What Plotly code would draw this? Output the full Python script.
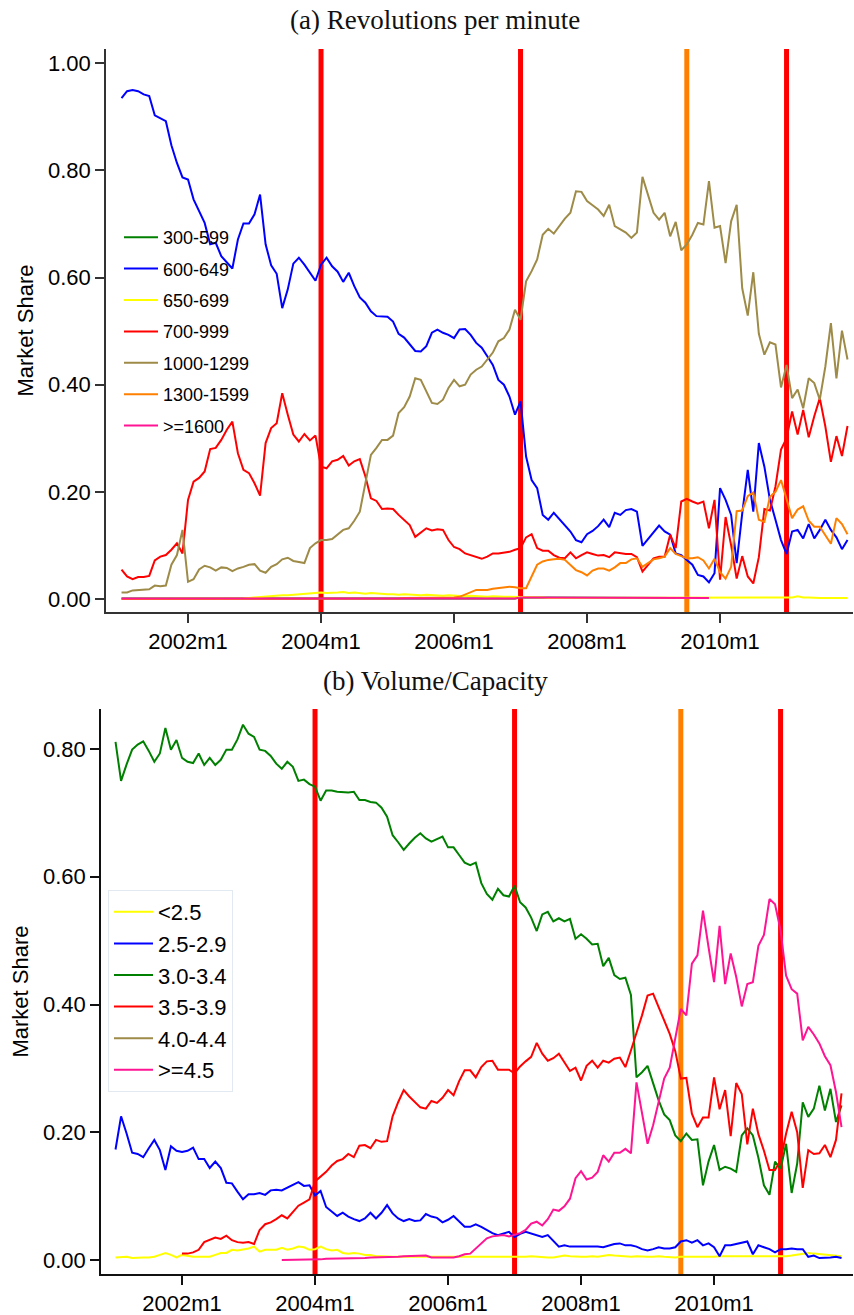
import plotly.graph_objects as go

# ---------------------------------------------------------------- time axis
months = [f"{yr}m{mo}" for yr in range(2001, 2012) for mo in range(1, 13)]
tick_labels = ["2002m1", "2004m1", "2006m1", "2008m1", "2010m1"]

# policy events marked with vertical lines
event_months = ["2004m1", "2007m1", "2009m7", "2011m1"]
event_colors = ["#ff0000", "#ff0000", "#ff8000", "#ff0000"]

# ---------------------------------------------------------------- (a) revolutions per minute
rpm_labels = ["300-599", "600-649", "650-699", "700-999", "1000-1299", "1300-1599", ">=1600"]
rpm_colors = ["#008000", "#0000ff", "#ffff00", "#ff0000", "#9e8b48", "#ff8000", "#ff1493"]

rpm_300_599 = [
    0.001, 0.001, 0.001, 0.001, 0.002, 0.002, 0.002, 0.002, 0.001, 0.001, 0.001, 0.001,
    0.001, 0.001, 0.001, 0.001, 0.001, 0.001, 0.001, 0.001, 0.001, 0.001, 0.001, 0.001,
    0.001, 0.001, 0.001, 0.001, 0.001, 0.001, 0.001, 0.001, 0.001, 0.001, 0.001, 0.001,
    0.001, 0.001, 0.001, 0.001, 0.001, 0.001, 0.001, 0.001, 0.001, 0.001, 0.001, 0.001,
    0.001, 0.001, 0.001, 0.001, 0.001, 0.001, 0.001, 0.001, 0.001, 0.001, 0.001, 0.001,
    0.001, 0.001, 0.001, 0.001, 0.001, 0.001, 0.001, 0.001, 0.001, 0.001, 0.001, 0.001,
    0.003, 0.003, 0.003, 0.003, 0.002, 0.002, 0.002, 0.002, 0.002, 0.002, 0.002, 0.002,
    0.002, 0.002, 0.002, 0.002, 0.002, 0.002, 0.002, 0.002, 0.002, 0.002, 0.002, 0.002,
    0.002, 0.002, 0.002, 0.002, 0.002, None, None, None, None, None, None, None,
    None, None, None, None, None, None, None, None, None, None, None, None,
    None, None, None, None, None, None, None, None, None, None, None, None,
]
rpm_600_649 = [
    0.935, 0.948, 0.950, 0.948, 0.942, 0.939, 0.903, 0.897, 0.892, 0.847, 0.814, 0.787,
    0.783, 0.746, 0.724, 0.702, 0.662, 0.665, 0.640, 0.628, 0.617, 0.671, 0.701, 0.701,
    0.718, 0.755, 0.662, 0.623, 0.607, 0.543, 0.578, 0.626, 0.637, 0.624, 0.610, 0.594,
    0.624, 0.637, 0.621, 0.611, 0.592, 0.609, 0.584, 0.563, 0.553, 0.537, 0.528, 0.528,
    0.527, 0.518, 0.495, 0.488, 0.475, 0.463, 0.462, 0.472, 0.497, 0.503, 0.497, 0.493,
    0.487, 0.503, 0.504, 0.493, 0.478, 0.469, 0.453, 0.437, 0.409, 0.400, 0.378, 0.344,
    0.369, 0.266, 0.222, 0.207, 0.157, 0.148, 0.161, 0.150, 0.138, 0.126, 0.110, 0.106,
    0.121, 0.127, 0.136, 0.148, 0.134, 0.161, 0.157, 0.166, 0.168, 0.163, 0.099, 0.112,
    0.126, 0.137, 0.126, 0.120, 0.085, 0.082, 0.073, 0.064, 0.045, 0.042, 0.031, 0.048,
    0.207, 0.185, 0.157, 0.067, 0.160, 0.241, 0.163, 0.291, 0.247, 0.185, 0.148, 0.110,
    0.084, 0.126, 0.129, 0.113, 0.140, 0.113, 0.129, 0.148, 0.129, 0.115, 0.093, 0.110,
]
rpm_650_699 = [
    0.000, 0.000, 0.000, 0.000, 0.000, 0.000, 0.000, 0.000, 0.000, 0.000, 0.000, 0.000,
    0.000, 0.000, 0.000, 0.000, 0.000, 0.000, 0.000, 0.000, 0.000, 0.000, 0.001, 0.002,
    0.003, 0.003, 0.004, 0.005, 0.006, 0.007, 0.007, 0.008, 0.009, 0.010, 0.010, 0.011,
    0.012, 0.011, 0.011, 0.012, 0.013, 0.011, 0.012, 0.011, 0.010, 0.011, 0.010, 0.010,
    0.009, 0.009, 0.008, 0.009, 0.008, 0.008, 0.007, 0.008, 0.007, 0.007, 0.006, 0.007,
    0.006, 0.006, 0.005, 0.006, 0.005, 0.005, 0.004, 0.005, 0.004, 0.004, 0.004, 0.004,
    0.004, 0.003, 0.003, 0.003, 0.003, 0.002, 0.002, 0.002, 0.002, 0.002, 0.002, 0.002,
    0.002, 0.002, 0.002, 0.002, 0.002, 0.002, 0.002, 0.002, 0.002, 0.002, 0.002, 0.002,
    0.002, 0.002, 0.002, 0.002, 0.002, 0.002, 0.002, 0.002, 0.002, 0.002, 0.002, 0.002,
    0.002, 0.002, 0.002, 0.002, 0.002, 0.002, 0.002, 0.003, 0.003, 0.002, 0.002, 0.003,
    0.003, 0.003, 0.005, 0.003, 0.003, 0.002, 0.002, 0.002, 0.002, 0.002, 0.002, 0.002,
]
rpm_700_999 = [
    0.055, 0.042, 0.037, 0.041, 0.041, 0.043, 0.072, 0.079, 0.082, 0.092, 0.104, 0.085,
    0.185, 0.219, 0.226, 0.238, 0.280, 0.282, 0.297, 0.316, 0.331, 0.272, 0.241, 0.235,
    0.216, 0.193, 0.291, 0.319, 0.328, 0.384, 0.344, 0.307, 0.294, 0.308, 0.296, 0.305,
    0.247, 0.244, 0.257, 0.260, 0.267, 0.249, 0.257, 0.261, 0.229, 0.188, 0.183, 0.168,
    0.169, 0.168, 0.157, 0.148, 0.138, 0.116, 0.124, 0.132, 0.128, 0.130, 0.129, 0.110,
    0.097, 0.093, 0.085, 0.082, 0.079, 0.075, 0.079, 0.085, 0.085, 0.087, 0.088, 0.092,
    0.095, 0.115, 0.121, 0.095, 0.090, 0.090, 0.082, 0.077, 0.076, 0.087, 0.076, 0.082,
    0.087, 0.084, 0.081, 0.082, 0.078, 0.087, 0.085, 0.084, 0.084, 0.078, 0.051, 0.064,
    0.076, 0.079, 0.079, 0.120, 0.095, 0.182, 0.187, 0.182, 0.178, 0.182, 0.132, 0.185,
    0.036, 0.153, 0.100, 0.038, 0.080, 0.042, 0.029, 0.078, 0.168, 0.165, 0.210, 0.279,
    0.300, 0.350, 0.307, 0.353, 0.302, 0.341, 0.375, 0.322, 0.256, 0.304, 0.267, 0.323,
]
rpm_1000_1299 = [
    0.012, 0.012, 0.016, 0.017, 0.018, 0.018, 0.025, 0.024, 0.025, 0.064, 0.082, 0.129,
    0.032, 0.037, 0.055, 0.062, 0.059, 0.053, 0.059, 0.058, 0.052, 0.057, 0.060, 0.064,
    0.065, 0.053, 0.049, 0.060, 0.065, 0.074, 0.077, 0.071, 0.069, 0.067, 0.095, 0.104,
    0.110, 0.110, 0.112, 0.120, 0.129, 0.132, 0.146, 0.163, 0.219, 0.269, 0.282, 0.297,
    0.297, 0.305, 0.347, 0.358, 0.378, 0.412, 0.409, 0.386, 0.366, 0.364, 0.372, 0.394,
    0.409, 0.397, 0.400, 0.419, 0.428, 0.434, 0.447, 0.460, 0.481, 0.487, 0.503, 0.540,
    0.521, 0.593, 0.612, 0.634, 0.680, 0.691, 0.682, 0.696, 0.710, 0.721, 0.761, 0.760,
    0.743, 0.735, 0.727, 0.715, 0.736, 0.696, 0.690, 0.684, 0.674, 0.684, 0.788, 0.755,
    0.721, 0.708, 0.721, 0.677, 0.704, 0.651, 0.662, 0.680, 0.702, 0.699, 0.780, 0.693,
    0.696, 0.627, 0.705, 0.736, 0.580, 0.529, 0.610, 0.495, 0.456, 0.479, 0.475, 0.395,
    0.437, 0.375, 0.391, 0.356, 0.412, 0.403, 0.372, 0.434, 0.515, 0.412, 0.501, 0.447,
]
rpm_1300_1599 = [
    0.000, 0.000, 0.000, 0.000, 0.000, 0.000, 0.000, 0.000, 0.000, 0.000, 0.000, 0.000,
    0.000, 0.000, 0.000, 0.000, 0.000, 0.000, 0.000, 0.000, 0.000, 0.000, 0.000, 0.000,
    0.001, 0.001, 0.001, 0.001, 0.001, 0.001, 0.001, 0.001, 0.001, 0.001, 0.001, 0.001,
    0.001, 0.001, 0.001, 0.001, 0.001, 0.001, 0.001, 0.001, 0.001, 0.001, 0.001, 0.001,
    0.001, 0.001, 0.001, 0.002, 0.002, 0.002, 0.002, 0.002, 0.003, 0.003, 0.003, 0.003,
    0.003, 0.004, 0.008, 0.012, 0.017, 0.017, 0.017, 0.019, 0.020, 0.022, 0.023, 0.022,
    0.020, 0.020, 0.042, 0.064, 0.070, 0.073, 0.074, 0.075, 0.073, 0.064, 0.054, 0.050,
    0.044, 0.053, 0.057, 0.057, 0.053, 0.059, 0.067, 0.067, 0.074, 0.076, 0.060, 0.067,
    0.074, 0.076, 0.079, 0.095, 0.084, 0.080, 0.076, 0.076, 0.078, 0.072, 0.057, 0.075,
    0.050, 0.038, 0.060, 0.164, 0.165, 0.192, 0.199, 0.148, 0.144, 0.191, 0.200, 0.222,
    0.185, 0.151, 0.167, 0.173, 0.146, 0.135, 0.135, 0.120, 0.103, 0.151, 0.140, 0.121,
]
rpm_1600_plus = [
    0.001, 0.001, 0.001, 0.001, 0.002, 0.002, 0.002, 0.002, 0.001, 0.001, 0.001, 0.001,
    0.001, 0.001, 0.001, 0.001, 0.001, 0.001, 0.001, 0.001, 0.001, 0.001, 0.001, 0.001,
    0.001, 0.001, 0.001, 0.001, 0.001, 0.001, 0.001, 0.001, 0.001, 0.001, 0.001, 0.001,
    0.001, 0.001, 0.001, 0.001, 0.001, 0.001, 0.001, 0.001, 0.001, 0.001, 0.001, 0.001,
    0.001, 0.001, 0.001, 0.001, 0.001, 0.001, 0.001, 0.001, 0.001, 0.001, 0.001, 0.001,
    0.001, 0.001, 0.001, 0.001, 0.001, 0.001, 0.001, 0.001, 0.001, 0.001, 0.001, 0.001,
    0.003, 0.003, 0.003, 0.003, 0.002, 0.002, 0.002, 0.002, 0.002, 0.002, 0.002, 0.002,
    0.002, 0.002, 0.002, 0.002, 0.002, 0.002, 0.002, 0.002, 0.002, 0.002, 0.002, 0.002,
    0.002, 0.002, 0.002, 0.002, 0.002, 0.002, 0.002, 0.002, 0.002, 0.002, 0.002, None,
    None, None, None, None, None, None, None, None, None, None, None, None,
    None, None, None, None, None, None, None, None, None, None, None, None,
]
rpm_series = [rpm_300_599, rpm_600_649, rpm_650_699, rpm_700_999,
              rpm_1000_1299, rpm_1300_1599, rpm_1600_plus]

# ---------------------------------------------------------------- (b) volume / capacity
vc_labels = ["<2.5", "2.5-2.9", "3.0-3.4", "3.5-3.9", "4.0-4.4", ">=4.5"]
vc_colors = ["#ffff00", "#0000ff", "#008000", "#ff0000", "#9e8b48", "#ff1493"]

vc_lt_25 = [
    0.004, 0.004, 0.005, 0.003, 0.004, 0.004, 0.004, 0.005, 0.008, 0.011, 0.008, 0.004,
    0.008, 0.006, 0.005, 0.005, 0.005, 0.005, 0.008, 0.011, 0.011, 0.016, 0.015, 0.016,
    0.018, 0.021, 0.013, 0.016, 0.016, 0.016, 0.019, 0.016, 0.018, 0.021, 0.020, 0.016,
    0.017, 0.021, 0.017, 0.015, 0.016, 0.011, 0.010, 0.011, 0.010, 0.008, 0.008, 0.006,
    0.006, 0.005, 0.005, 0.005, 0.005, 0.004, 0.004, 0.005, 0.005, 0.004, 0.005, 0.004,
    0.004, 0.004, 0.005, 0.004, 0.004, 0.005, 0.004, 0.004, 0.004, 0.005, 0.004, 0.004,
    0.004, 0.004, 0.005, 0.006, 0.005, 0.005, 0.004, 0.004, 0.005, 0.007, 0.006, 0.005,
    0.005, 0.005, 0.006, 0.005, 0.006, 0.008, 0.007, 0.006, 0.005, 0.005, 0.006, 0.005,
    0.005, 0.005, 0.006, 0.005, 0.004, 0.004, 0.005, 0.005, 0.004, 0.004, 0.005, 0.005,
    0.005, 0.006, 0.006, 0.005, 0.006, 0.006, 0.006, 0.006, 0.005, 0.005, 0.006, 0.006,
    0.006, 0.006, 0.007, 0.008, 0.010, 0.011, 0.010, 0.009, 0.008, 0.008, 0.007, 0.006,
]
vc_25_29 = [
    0.173, 0.225, 0.198, 0.168, 0.166, 0.161, 0.175, 0.188, 0.172, 0.141, 0.178, 0.171,
    0.169, 0.171, 0.176, 0.158, 0.158, 0.144, 0.154, 0.144, 0.121, 0.120, 0.107, 0.095,
    0.103, 0.103, 0.105, 0.102, 0.109, 0.110, 0.109, 0.113, 0.117, 0.122, 0.116, 0.117,
    0.101, 0.108, 0.083, 0.076, 0.069, 0.074, 0.068, 0.064, 0.061, 0.065, 0.074, 0.065,
    0.074, 0.086, 0.073, 0.065, 0.061, 0.064, 0.061, 0.062, 0.072, 0.068, 0.066, 0.059,
    0.063, 0.069, 0.061, 0.052, 0.052, 0.056, 0.052, 0.047, 0.042, 0.039, 0.041, 0.044,
    0.036, 0.041, 0.044, 0.041, 0.038, 0.036, 0.039, 0.030, 0.021, 0.023, 0.021, 0.021,
    0.021, 0.021, 0.022, 0.021, 0.020, 0.023, 0.025, 0.026, 0.023, 0.023, 0.021, 0.017,
    0.015, 0.017, 0.020, 0.018, 0.018, 0.020, 0.029, 0.031, 0.027, 0.031, 0.023, 0.026,
    0.020, 0.006, 0.023, 0.023, 0.025, 0.027, 0.029, 0.009, 0.023, 0.020, 0.017, 0.012,
    0.017, 0.017, 0.018, 0.017, 0.017, 0.005, 0.007, 0.003, 0.003, 0.004, 0.005, 0.003,
]
vc_30_34 = [
    0.811, 0.750, 0.776, 0.799, 0.807, 0.812, 0.797, 0.780, 0.793, 0.833, 0.799, 0.814,
    0.786, 0.780, 0.778, 0.793, 0.775, 0.786, 0.775, 0.783, 0.799, 0.799, 0.815, 0.838,
    0.824, 0.819, 0.799, 0.797, 0.789, 0.777, 0.769, 0.780, 0.772, 0.750, 0.752, 0.745,
    0.741, 0.719, 0.735, 0.735, 0.733, 0.732, 0.732, 0.733, 0.720, 0.720, 0.717, 0.716,
    0.708, 0.694, 0.665, 0.654, 0.642, 0.652, 0.661, 0.668, 0.660, 0.655, 0.659, 0.663,
    0.646, 0.646, 0.634, 0.622, 0.618, 0.622, 0.590, 0.573, 0.564, 0.581, 0.571, 0.569,
    0.586, 0.560, 0.552, 0.536, 0.515, 0.541, 0.545, 0.530, 0.535, 0.530, 0.534, 0.503,
    0.510, 0.503, 0.494, 0.495, 0.460, 0.473, 0.446, 0.440, 0.442, 0.415, 0.286, 0.294,
    0.304, 0.278, 0.250, 0.228, 0.219, 0.195, 0.186, 0.198, 0.188, 0.189, 0.117, 0.154,
    0.180, 0.141, 0.146, 0.143, 0.138, 0.195, 0.206, 0.195, 0.160, 0.117, 0.102, 0.154,
    0.143, 0.182, 0.105, 0.151, 0.247, 0.224, 0.237, 0.273, 0.234, 0.268, 0.216, 0.242,
]
vc_35_39 = [
    None, None, None, None, None, None, None, None, None, None, None, None,
    0.010, 0.010, 0.012, 0.016, 0.028, 0.031, 0.035, 0.033, 0.038, 0.031, 0.028, 0.027,
    0.028, 0.025, 0.047, 0.056, 0.059, 0.064, 0.070, 0.065, 0.075, 0.085, 0.090, 0.095,
    0.123, 0.130, 0.138, 0.148, 0.155, 0.158, 0.166, 0.161, 0.179, 0.180, 0.175, 0.188,
    0.185, 0.186, 0.225, 0.247, 0.266, 0.256, 0.247, 0.239, 0.237, 0.249, 0.246, 0.254,
    0.266, 0.258, 0.280, 0.297, 0.297, 0.286, 0.302, 0.311, 0.312, 0.298, 0.298, 0.298,
    0.292, 0.303, 0.311, 0.318, 0.340, 0.323, 0.312, 0.316, 0.323, 0.310, 0.296, 0.301,
    0.281, 0.304, 0.312, 0.301, 0.312, 0.309, 0.315, 0.317, 0.302, 0.328, 0.355, 0.383,
    0.414, 0.417, 0.396, 0.375, 0.354, 0.327, 0.284, 0.285, 0.229, 0.208, 0.223, 0.223,
    0.286, 0.236, 0.266, 0.194, 0.277, 0.260, 0.181, 0.237, 0.197, 0.171, 0.141, 0.141,
    0.156, 0.198, 0.232, 0.200, 0.113, 0.172, 0.166, 0.167, 0.180, 0.161, 0.188, 0.261,
]
# no observations in the 4.0-4.4 class over the sample window
vc_40_44 = [None] * len(months)
vc_45_plus = [
    None, None, None, None, None, None, None, None, None, None, None, None,
    None, None, None, None, None, None, None, None, None, None, None, None,
    None, None, None, None, None, None, 0.000, 0.000, 0.001, 0.001, 0.001, 0.001,
    0.001, 0.001, 0.002, 0.002, 0.002, 0.002, 0.003, 0.003, 0.003, 0.003, 0.004, 0.004,
    0.005, 0.005, 0.005, 0.005, 0.006, 0.006, 0.006, 0.007, 0.007, 0.004, 0.004, 0.004,
    0.004, 0.004, 0.006, 0.009, 0.010, 0.018, 0.026, 0.034, 0.037, 0.038, 0.039, 0.037,
    0.040, 0.042, 0.047, 0.057, 0.060, 0.054, 0.064, 0.079, 0.077, 0.084, 0.096, 0.128,
    0.139, 0.126, 0.129, 0.138, 0.164, 0.154, 0.168, 0.168, 0.174, 0.167, 0.278, 0.229,
    0.182, 0.211, 0.247, 0.284, 0.301, 0.349, 0.393, 0.383, 0.464, 0.477, 0.547, 0.490,
    0.435, 0.523, 0.432, 0.480, 0.443, 0.397, 0.432, 0.435, 0.492, 0.509, 0.565, 0.557,
    0.516, 0.445, 0.424, 0.417, 0.344, 0.365, 0.353, 0.339, 0.319, 0.305, 0.263, 0.208,
]
vc_series = [vc_lt_25, vc_25_29, vc_30_34, vc_35_39, vc_40_44, vc_45_plus]

# ---------------------------------------------------------------- figure
W, H = 854, 1315
SANS = "Liberation Sans, Arial, sans-serif"
SERIF = "Liberation Serif, Times New Roman, serif"
x_idx = list(range(len(months)))

fig = go.Figure()

for name, color, vals in zip(rpm_labels, rpm_colors, rpm_series):
    fig.add_trace(go.Scatter(
        x=x_idx, y=vals, name=name, mode="lines", text=months,
        line=dict(color=color, width=2), xaxis="x", yaxis="y",
        legend="legend", legendgroup="a" + name,
        hovertemplate="%{text}: %{y:.3f}<extra>" + name + "</extra>",
    ))

for name, color, vals in zip(vc_labels, vc_colors, vc_series):
    fig.add_trace(go.Scatter(
        x=x_idx, y=vals, name=name, mode="lines", text=months,
        line=dict(color=color, width=2), xaxis="x2", yaxis="y2",
        legend="legend2",
        hovertemplate="%{text}: %{y:.3f}<extra>" + name + "</extra>",
    ))

# vertical event markers in both panels
shapes = []
for ev, col in zip(event_months, event_colors):
    xv = months.index(ev)
    for xr, yr in (("x", "y domain"), ("x2", "y2 domain")):
        shapes.append(dict(type="line", xref=xr, yref=yr, x0=xv, x1=xv, y0=0, y1=1,
                           line=dict(color=col, width=5), layer="below"))

tickvals = [months.index(t) for t in tick_labels]


def xaxis_style(domain, rng, anchor, linecol):
    return dict(domain=domain, range=rng, anchor=anchor, tickmode="array",
                tickvals=tickvals, ticktext=tick_labels, ticks="outside", ticklen=9,
                tickwidth=1.5, tickcolor=linecol, showline=True, linecolor=linecol,
                linewidth=1.5, showgrid=False, zeroline=False, automargin=False,
                tickfont=dict(family=SANS, size=22, color="#000"))


def yaxis_style(domain, rng, anchor, tv, linecol):
    return dict(domain=domain, range=rng, anchor=anchor, tickmode="array",
                tickvals=tv, ticktext=[f"{v:.2f}" for v in tv], ticks="outside",
                ticklen=9, tickwidth=1.5, tickcolor=linecol, showline=True,
                linecolor=linecol, linewidth=1.5, showgrid=False, zeroline=False,
                automargin=False, tickfont=dict(family=SANS, size=22, color="#000"),
                title=dict(text="Market Share", standoff=8,
                           font=dict(family=SANS, size=22, color="#000")))


top_x = [106 / W, 853 / W]
top_y = [1 - 612 / H, 1 - 49 / H]
bot_x = [101 / W, 853 / W]
bot_y = [1 - 1274 / H, 1 - 709 / H]

fig.update_layout(
    width=W, height=H, template="none",
    paper_bgcolor="white", plot_bgcolor="white",
    margin=dict(l=0, r=0, t=0, b=0),
    xaxis=xaxis_style(top_x, [-2.80, 131.99], "y", "#333333"),
    yaxis=yaxis_style(top_y, [-0.0243, 1.0267], "x", [0, 0.2, 0.4, 0.6, 0.8, 1.0], "#333333"),
    xaxis2=xaxis_style(bot_x, [-2.62, 133.07], "y2", "#111111"),
    yaxis2=yaxis_style(bot_y, [-0.0219, 0.8626], "x2", [0, 0.2, 0.4, 0.6, 0.8], "#111111"),
    shapes=shapes,
    legend=dict(x=119 / W, y=1 - 219 / H, xanchor="left", yanchor="top",
                bgcolor="rgba(0,0,0,0)", borderwidth=0, traceorder="grouped",
                tracegroupgap=5, itemwidth=34,
                font=dict(family=SANS, size=18, color="#000")),
    legend2=dict(x=108 / W, y=1 - 890 / H, xanchor="left", yanchor="top",
                 bgcolor="white", bordercolor="#e3e9f0", borderwidth=1, itemwidth=39,
                 font=dict(family=SANS, size=22, color="#000")),
    annotations=[
        dict(text="(a) Revolutions per minute", xref="paper", yref="paper",
             x=435 / W, y=1 - 20 / H, xanchor="center", yanchor="middle",
             showarrow=False, font=dict(family=SERIF, size=27, color="#111")),
        dict(text="(b) Volume/Capacity", xref="paper", yref="paper",
             x=435 / W, y=1 - 681 / H, xanchor="center", yanchor="middle",
             showarrow=False, font=dict(family=SERIF, size=27, color="#111")),
    ],
    showlegend=True,
)

fig.write_html("out.html")
